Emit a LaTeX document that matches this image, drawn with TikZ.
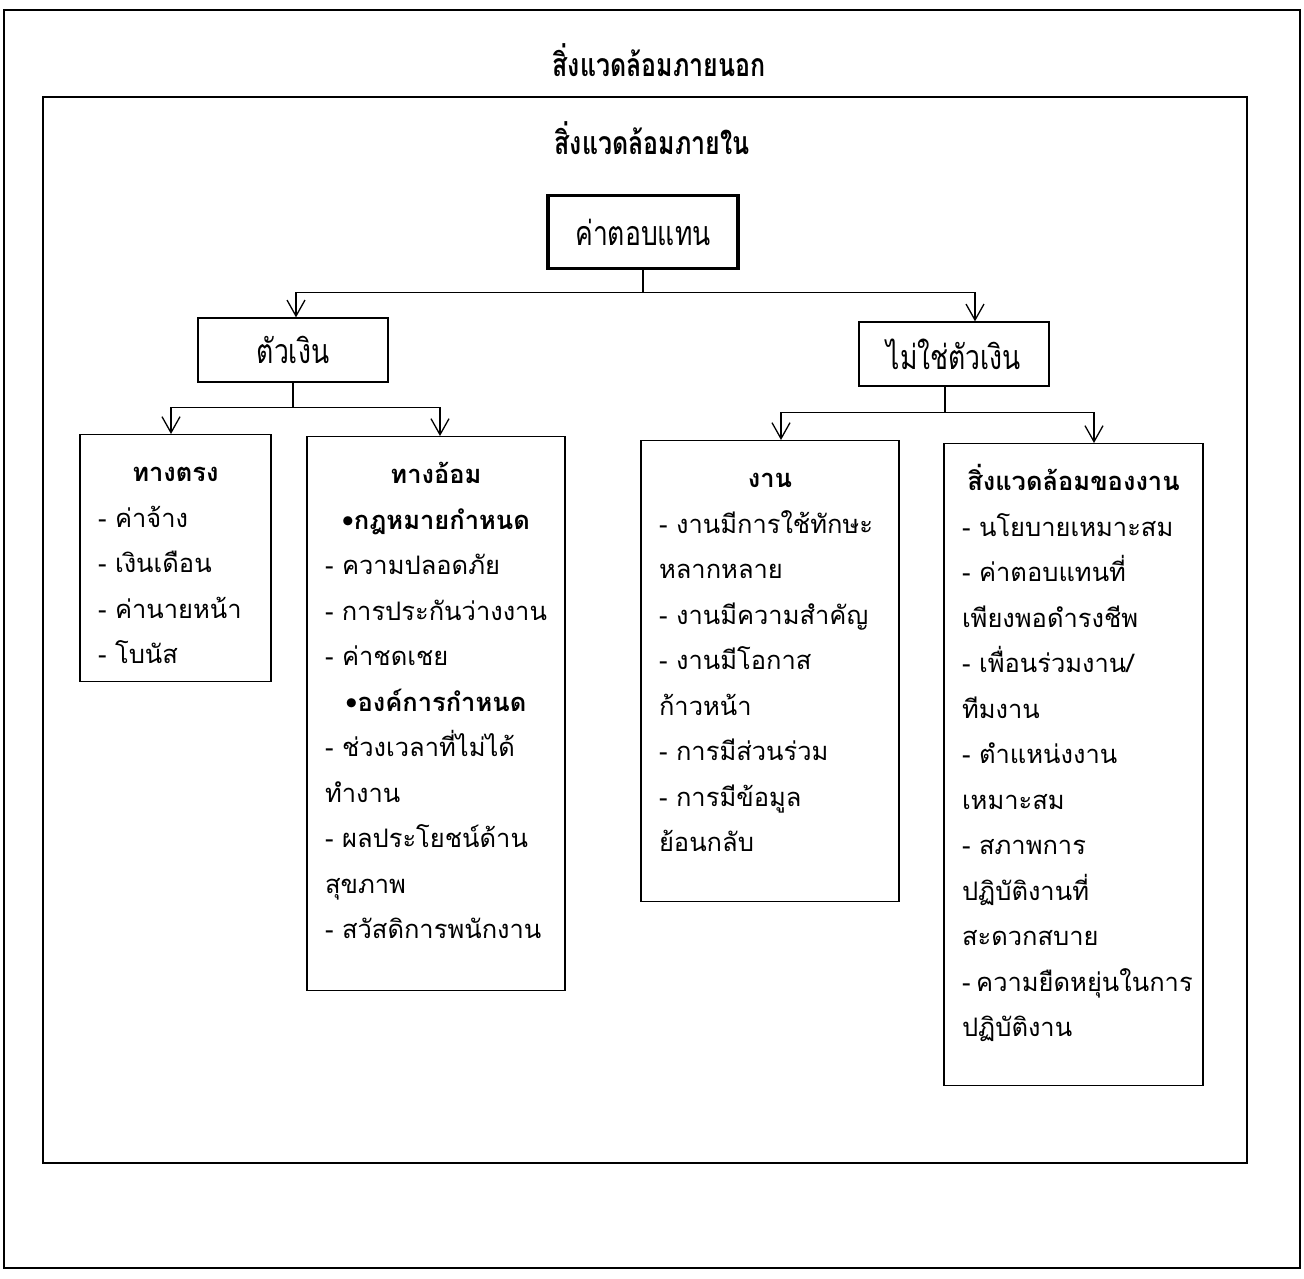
\documentclass[tikz,border=0pt]{standalone}
\usepackage{fontspec}
\setmainfont[Script=Thai]{Loma}
\newfontfamily\narrowfont[Script=Thai,FakeStretch=0.78]{Loma}
\usetikzlibrary{arrows.meta}
\exhyphenpenalty=10000

% text block of a list box: height, width, title, lines
\newcommand{\boxlines}[4]{\parbox[c][#1][t]{#2}{%
  \centering\rule{0pt}{47pt}\smash{\textbf{#3}}\par\raggedright #4}}

\tikzset{
  frametitle/.style={font=\narrowfont\bfseries\fontsize{32}{36}\selectfont},
  rootbox/.style={draw, line width=3.5pt, minimum width=190pt, minimum height=73pt,
    font=\narrowfont\fontsize{34}{40}\selectfont},
  kindbox/.style={draw, line width=1.3pt, minimum width=190pt, minimum height=64pt,
    font=\narrowfont\fontsize{34}{40}\selectfont},
  listbox/.style={draw, line width=1.3pt, anchor=north, inner xsep=18pt, inner ysep=0pt,
    font=\fontsize{25.5}{45.5}\selectfont},
  branch/.style={line width=1.3pt, -{Straight Barb[length=16pt,width=18pt,line width=1.3pt]}},
}

\begin{document}
\begin{tikzpicture}[x=1pt,y=-1pt]
\useasboundingbox (0,0) rectangle (1304,1278);

% frames
\draw[line width=1.2pt] (4,10) rectangle (1300,1268);
\draw[line width=1.2pt] (43,97) rectangle (1247,1163);
\node[frametitle] (outside) at (659,60) {สิ่งแวดล้อมภายนอก};
\node[frametitle] (inside) at (652,138) {สิ่งแวดล้อมภายใน};

% top of the tree
\node[rootbox] (pay) at (643,232) {ค่าตอบแทน};
\node[kindbox] (money) at (293,350) {ตัวเงิน};
\node[kindbox] (nonmoney) at (954,354) {ไม่ใช่ตัวเงิน};

\draw[branch] (pay.south) -- ++(0,22) -| ([xshift=3pt]money.north);
\draw[branch] (pay.south) -- ++(0,22) -| ([xshift=21pt]nonmoney.north);

% money side
\node[listbox] (direct) at (175.5,434) {\boxlines{247pt}{155pt}{ทางตรง}{%
  -~ค่าจ้าง\\
  -~เงินเดือน\\
  -~ค่านายหน้า\\
  -~โบนัส}};
\node[listbox] (indirect) at (436,436) {\boxlines{554pt}{222pt}{ทางอ้อม}{%
  \centering\textbf{\textbullet กฎหมายกำหนด}\par\raggedright
  -~ความปลอดภัย\\
  -~การประกันว่างงาน\\
  -~ค่าชดเชย\par\centering
  \textbf{\textbullet องค์การกำหนด}\par\raggedright
  -~ช่วงเวลาที่ไม่ได้\\
  ทำงาน\\
  -~ผลประโยชน์ด้าน\\
  สุขภาพ\\
  -~สวัสดิการพนักงาน}};

\draw[branch] (money.south) -- ++(0,25) -| ([xshift=-4.5pt]direct.north);
\draw[branch] (money.south) -- ++(0,25) -| ([xshift=4pt]indirect.north);

% non-money side
\node[listbox] (job) at (770,440) {\boxlines{461pt}{222pt}{งาน}{%
  -~งานมีการใช้ทักษะ\\
  หลากหลาย\\
  -~งานมีความสำคัญ\\
  -~งานมีโอกาส\\
  ก้าวหน้า\\
  -~การมีส่วนร่วม\\
  -~การมีข้อมูล\\
  ย้อนกลับ}};
\node[listbox] (jobenv) at (1073.5,443) {\boxlines{642pt}{223pt}{สิ่งแวดล้อมของงาน}{%
  -~นโยบายเหมาะสม\\
  -~ค่าตอบแทนที่\\
  เพียงพอดำรงชีพ\\
  -~เพื่อนร่วมงาน/\\
  ทีมงาน\\
  -~ตำแหน่งงาน\\
  เหมาะสม\\
  -~สภาพการ\\
  ปฏิบัติงานที่\\
  สะดวกสบาย\\
  -~ความยืดหยุ่นในการ\\
  ปฏิบัติงาน}};

\draw[branch] ([xshift=-9pt]nonmoney.south) -- ++(0,26) -| ([xshift=11pt]job.north);
\draw[branch] ([xshift=-9pt]nonmoney.south) -- ++(0,26) -| ([xshift=20.5pt]jobenv.north);

\end{tikzpicture}
\end{document}
